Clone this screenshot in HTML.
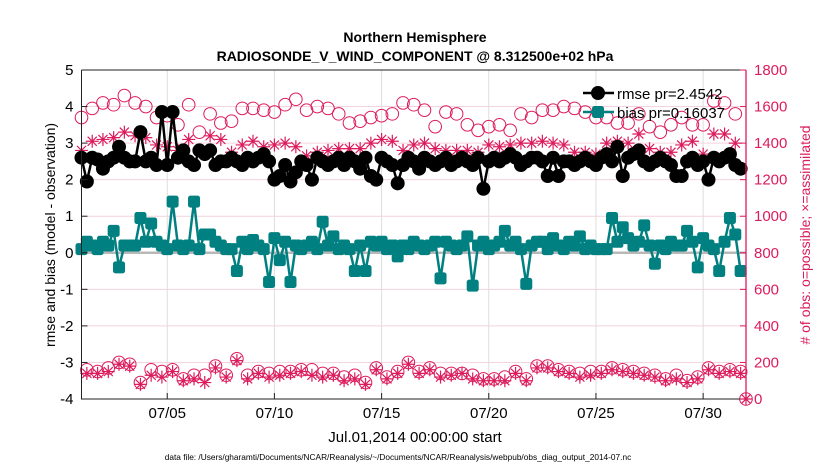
<!DOCTYPE html>
<html><head><meta charset="utf-8">
<style>
body{margin:0;background:#fff;}
svg text{font-family:"Liberation Sans",sans-serif;}
</style></head>
<body>
<svg id="chart" width="830" height="470" xmlns="http://www.w3.org/2000/svg">
<rect width="830" height="470" fill="#fff"/>
<text x="415" y="42" text-anchor="middle" font-size="14" font-weight="bold">Northern Hemisphere</text>
<text x="415" y="61" text-anchor="middle" font-size="14" font-weight="bold">RADIOSONDE_V_WIND_COMPONENT @ 8.312500e+02 hPa</text>
<g id="grid"></g>
<g id="series"></g>
<g id="axes"></g>
<text x="415" y="442" text-anchor="middle" font-size="15">Jul.01,2014 00:00:00 start</text>
<text transform="translate(55,235) rotate(-90)" text-anchor="middle" font-size="14">rmse and bias (model - observation)</text>
<text transform="translate(810,235) rotate(-90)" text-anchor="middle" font-size="14" fill="#dc1c5c"># of obs: o=possible; ×=assimilated</text>
<text x="398" y="460" text-anchor="middle" font-size="8.3">data file: /Users/gharamti/Documents/NCAR/Reanalysis/~/Documents/NCAR/Reanalysis/webpub/obs_diag_output_2014-07.nc</text>
<g id="legend"></g>
</svg>
<script>
const leftTicks=[5,4,3,2,1,0,-1,-2,-3,-4];
const rightTicks=[1800,1600,1400,1200,1000,800,600,400,200,0];
const xTickDays=[5,10,15,20,25,30];
const xTickLabels=["07/05","07/10","07/15","07/20","07/25","07/30"];
const rmse=[2.6,1.95,2.6,2.55,2.3,2.5,2.6,2.9,2.6,2.5,
2.5,3.3,2.5,2.6,2.4,3.85,2.4,3.85,2.6,2.8,
2.5,2.4,2.8,2.7,2.8,2.4,2.5,2.5,2.6,2.5,
2.4,2.6,2.5,2.6,2.7,2.5,2.0,2.1,2.4,1.95,
2.2,2.5,2.4,2.0,2.6,2.5,2.4,2.5,2.6,2.4,
2.6,2.5,2.3,2.6,2.1,2.0,2.6,2.5,2.4,1.9,
2.4,2.6,2.5,2.3,2.6,2.5,2.4,2.5,2.6,2.4,
2.5,2.6,2.5,2.4,2.6,1.75,2.5,2.6,2.5,2.6,
2.7,2.6,2.4,2.5,2.6,2.6,2.5,2.1,2.6,2.1,
2.5,2.5,2.4,2.5,2.6,2.5,2.4,2.6,2.7,2.5,
2.9,2.1,2.6,2.7,2.8,2.5,2.4,2.5,2.6,2.5,
2.4,2.1,2.1,2.5,2.6,2.4,2.5,2.0,2.6,2.5,
2.6,2.7,2.4,2.3,null];
const bias=[0.1,0.3,0.2,0.1,0.3,0.2,0.6,-0.4,0.2,0.2,
0.2,0.95,0.3,0.8,0.3,0.2,0.1,1.4,0.2,0.1,
0.2,1.4,0.1,0.5,0.5,0.3,0.2,0.1,0.1,-0.5,
0.3,0.1,0.35,0.2,0.1,-0.8,0.4,-0.2,0.3,-0.8,
0.2,0.1,0.2,0.3,0.1,0.85,0.2,0.45,0.1,0.2,
0.1,-0.5,0.2,-0.5,0.3,0.2,0.3,0.1,0.2,-0.1,
0.2,0.1,0.3,0.2,0.1,0.2,0.3,-0.7,0.3,0.2,
0.1,0.2,0.45,-0.9,0.2,0.3,0.1,0.2,0.3,0.6,
0.2,0.3,0.1,-0.85,0.2,0.3,0.3,0.1,0.4,0.2,
0.1,0.3,0.2,0.45,0.1,0.2,0.1,0.1,0.1,0.95,
0.3,0.7,0.4,0.2,0.3,0.75,0.2,-0.3,0.2,0.1,
0.3,0.2,0.2,0.6,0.3,-0.4,0.4,0.2,0.1,-0.5,
0.3,0.95,0.5,-0.5,null];
// counts at 00Z/12Z (even steps) and 06Z/18Z (odd steps)
const possibleMain=[1540,1590,1620,1610,1660,1620,1600,1540,1550,1500,1610,1460,1560,1510,1520,1590,1590,1580,1570,1610,1640,1580,1600,1590,1560,1510,1520,1540,1550,1560,1620,1610,1580,1490,1570,1560,1500,1470,1490,1500,1470,1560,1540,1580,1580,1600,1590,1570,1540,1540,1510,1510,1560,1490,1460,1500,1540,1500,1500,1630,1620,1560,0];
const assimMain=[1360,1410,1420,1430,1460,1440,1430,1390,1380,1360,1420,1360,1440,1420,1350,1390,1410,1380,1390,1400,1380,1330,1350,1360,1370,1370,1370,1400,1420,1410,1360,1390,1400,1370,1360,1360,1360,1350,1390,1380,1390,1400,1400,1410,1400,1390,1350,1350,1340,1400,1410,1400,1450,1370,1350,1350,1390,1410,1340,1450,1450,1400,0];
const possibleOff=[160,150,170,200,190,90,160,150,160,110,130,130,180,130,220,130,150,140,150,150,160,160,140,140,120,130,90,170,120,150,200,150,170,140,140,140,130,110,110,120,150,110,180,180,160,150,140,150,150,170,160,150,140,130,110,130,100,120,170,150,160,150];
const assimOff=[140,140,150,190,180,80,130,120,150,100,110,90,170,120,210,110,140,120,130,140,150,130,120,130,100,110,80,160,110,140,190,140,160,120,130,140,110,100,100,100,140,100,170,170,150,140,120,130,140,160,150,140,130,120,100,110,90,110,160,140,150,140];

const NS='http://www.w3.org/2000/svg';
const L=81.5,R=746,T=70,B=399,DAYS=31;
const xDay=t=>L+t*(R-L)/DAYS;
const yL=v=>B-(v+4)*(B-T)/9;
const yR=c=>B-c*(B-T)/1800;
function mk(tag,attrs,parent){const e=document.createElementNS(NS,tag);for(const k in attrs)e.setAttribute(k,attrs[k]);parent.appendChild(e);return e;}
const grid=document.getElementById('grid'),axes=document.getElementById('axes'),ser=document.getElementById('series'),leg=document.getElementById('legend');
const PINK='#dc1c5c',TEAL='#008080';

rightTicks.forEach(c=>{const l=mk('line',{x1:L,x2:R,y1:yR(c),y2:yR(c),stroke:'#f3d3de','stroke-width':1},grid);

});
xTickDays.forEach(d=>{const l=mk('line',{x1:xDay(d-1),x2:xDay(d-1),y1:T,y2:B,stroke:'#dddddd','stroke-width':1},grid);

});
const zl=mk('line',{x1:L,x2:R,y1:yL(0),y2:yL(0),stroke:'#b8b8b8','stroke-width':2.5},grid);



const fr=mk('path',{d:`M${L},${T}V${B}H${R}`,fill:'none',stroke:'#222','stroke-width':1},axes);


const ra=mk('line',{x1:R,x2:R,y1:T,y2:B,stroke:PINK,'stroke-width':1.3},axes);


const ta=mk('line',{x1:L,x2:R,y1:T,y2:T,stroke:'#222','stroke-width':1},axes);


leftTicks.forEach(v=>{mk('line',{x1:L,x2:L+6,y1:yL(v),y2:yL(v),stroke:'#222'},axes);
const t=mk('text',{x:L-8,y:yL(v)+5,'text-anchor':'end','font-size':15},axes);t.textContent=v;

});
rightTicks.forEach(c=>{mk('line',{x1:R-6,x2:R,y1:yR(c),y2:yR(c),stroke:PINK},axes);
const t=mk('text',{x:R+8,y:yR(c)+5,'font-size':15,fill:PINK},axes);t.textContent=c;

});
xTickDays.forEach((d,i)=>{mk('line',{x1:xDay(d-1),x2:xDay(d-1),y1:B,y2:B-6,stroke:'#222'},axes);
const t=mk('text',{x:xDay(d-1),y:B+19,'text-anchor':'middle','font-size':15},axes);t.textContent=xTickLabels[i];

});

function star(g,x,y,s){mk('path',{d:`M${x-s},${y}H${x+s}M${x},${y-s}V${y+s}M${x-s*.7},${y-s*.7}L${x+s*.7},${y+s*.7}M${x-s*.7},${y+s*.7}L${x+s*.7},${y-s*.7}`,stroke:PINK,'stroke-width':1.2,fill:'none'},g);}
const cg=mk('g',{},ser);


possibleMain.forEach((c,i)=>{const x=xDay(i*0.5);const m=mk('circle',{cx:x,cy:yR(c),r:6.3,fill:'none',stroke:PINK,'stroke-width':1},cg);

});
possibleOff.forEach((c,i)=>{const x=xDay(i*0.5+0.25);const m=mk('circle',{cx:x,cy:yR(c),r:6.3,fill:'none',stroke:PINK,'stroke-width':1},cg);

});
assimMain.forEach((c,i)=>star(cg,xDay(i*0.5),yR(c),6.5));
assimOff.forEach((c,i)=>star(cg,xDay(i*0.5+0.25),yR(c),6.5));

function line(vals,color,name){let d='';vals.forEach((v,i)=>{if(v==null)return;d+=(d?'L':'M')+xDay(i*0.25)+','+yL(v);});
const p=mk('path',{d,fill:'none',stroke:color,'stroke-width':2.5},ser);

}
line(rmse,'#000','rmse-line');
rmse.forEach((v,i)=>{if(v==null)return;const m=mk('circle',{cx:xDay(i*0.25),cy:yL(v),r:7,fill:'#000'},ser);

});
line(bias,TEAL,'bias-line');
bias.forEach((v,i)=>{if(v==null)return;const m=mk('rect',{x:xDay(i*0.25)-6,y:yL(v)-6,width:12,height:12,rx:2.5,fill:TEAL},ser);

});

mk('line',{x1:583,x2:614,y1:93,y2:93,stroke:'#000','stroke-width':2.5},leg);
mk('circle',{cx:598,cy:93,r:7,fill:'#000'},leg);
const t1=mk('text',{x:617,y:99,'font-size':15},leg);t1.textContent='rmse pr=2.4542';


mk('line',{x1:583,x2:614,y1:112,y2:112,stroke:TEAL,'stroke-width':2.5},leg);
mk('rect',{x:592,y:106,width:12,height:12,rx:2.5,fill:TEAL},leg);
const t2=mk('text',{x:617,y:118,'font-size':15},leg);t2.textContent='bias pr=0.16037';


</script>
</body></html>
